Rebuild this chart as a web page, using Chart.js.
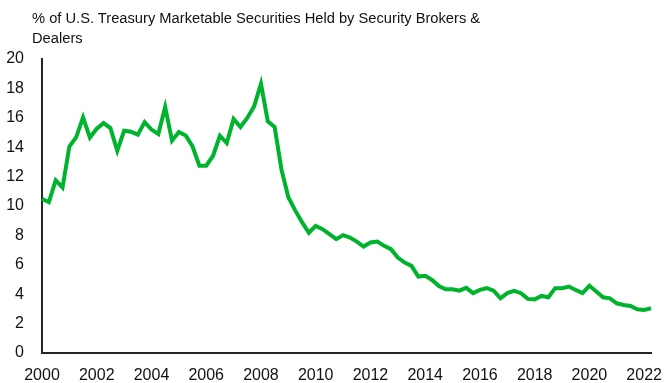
<!DOCTYPE html>
<html>
<head>
<meta charset="utf-8">
<script src="https://cdn.jsdelivr.net/npm/chart.js@4/dist/chart.umd.min.js"></script>
<style>
  body { margin: 0; background: #fff; }
  #wrap { position: relative; width: 664px; height: 383px; }
  #title {
    position: absolute; left: 32px; top: 8px;
    font: 14.7px "Liberation Sans", Arial, sans-serif; line-height: 20px; color: #111;
  }
  canvas { position: absolute; left: 0; top: 0; }
</style>
</head>
<body>
<div id="wrap">
  <canvas id="chart" width="664" height="383"></canvas>
  <div id="title">% of U.S. Treasury Marketable Securities Held by Security Brokers &amp;<br>Dealers</div>
</div>
<script>
// quarterly, 2000 Q1 .. 2022 Q2
let years = [];
for (let y = 2000; y <= 2022; y++) years.push(y);

let quarters = [];
years.forEach(y => {
    for (let q = 1; q <= 4; q++) {
        if (y == 2022 && q > 2) break;
        quarters.push(y + ' Q' + q);
    }
});

let brokerShare = [
    10.49, 10.26, 11.74, 11.26,
    14.05, 14.69, 16.03, 14.65,
    15.26, 15.64, 15.30, 13.76,
    15.12, 15.05, 14.85, 15.71,
    15.20, 14.90, 16.74, 14.44,
    15.03, 14.80, 14.05, 12.74,
    12.74, 13.42, 14.78, 14.28,
    15.92, 15.37, 15.99, 16.78,
    18.32, 15.76, 15.37, 12.47,
    10.60, 9.70, 8.90, 8.18,
    8.65, 8.42, 8.08, 7.74,
    8.02, 7.85, 7.58, 7.24,
    7.52, 7.58, 7.29, 7.06,
    6.49, 6.15, 5.93, 5.20,
    5.25, 4.97, 4.56, 4.34,
    4.34, 4.24, 4.43, 4.07,
    4.29, 4.41, 4.24, 3.72,
    4.07, 4.22, 4.07, 3.68,
    3.65, 3.88, 3.79, 4.41,
    4.41, 4.52, 4.29, 4.07,
    4.58, 4.18, 3.79, 3.72,
    3.38, 3.27, 3.20, 2.98,
    2.93, 3.04
];

let yTicks = { min: 0, max: 20, step: 2 };

const font = { family: '"Liberation Sans", Arial, sans-serif', size: 16 };
const axisColor = '#262620';

new Chart(document.getElementById('chart'), {
    type: 'line',
    data: {
        labels: quarters,
        datasets: [{
            data: brokerShare,
            borderColor: '#00b32d',
            borderWidth: 4,
            pointRadius: 0,
            tension: 0,
            clip: false
        }]
    },
    options: {
        responsive: false,
        animation: false,
        layout: { padding: { top: 59, right: 13, left: 0, bottom: 0 } },
        plugins: { legend: { display: false }, tooltip: { enabled: false } },
        scales: {
            x: {
                grid: { display: false },
                border: { display: true, color: axisColor, width: 2 },
                ticks: {
                    autoSkip: false, maxRotation: 0, padding: 5,
                    color: '#111', font: font,
                    callback: function (val, i) {
                        let parts = quarters[i].split(' Q');
                        let yr = parseInt(parts[0]);
                        return (parts[1] == '1' && yr % 2 == 0) ? String(yr) : '';
                    }
                },
                afterFit: function (scale) { scale.height = 30; }
            },
            y: {
                min: yTicks.min, max: yTicks.max,
                grid: { display: false },
                border: { display: true, color: axisColor, width: 2 },
                ticks: { stepSize: yTicks.step, padding: 10, color: '#111', font: font },
                afterFit: function (scale) { scale.width = 42; }
            }
        }
    }
});
</script>
</body>
</html>
